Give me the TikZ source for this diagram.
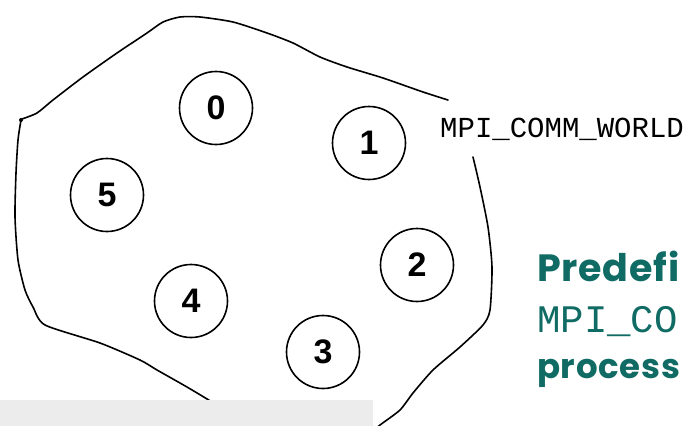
\documentclass[tikz,border=0pt]{standalone}
\usepackage{fontspec}
\newfontfamily\digitfont{Liberation Sans}
\newfontfamily\monofnt{Liberation Mono}
\newfontfamily\tealfont{Poppins}[LetterSpace=2]
\definecolor{tealtxt}{HTML}{0F6B63}
\definecolor{boxgray}{HTML}{ECECEC}
\begin{document}
\begin{tikzpicture}[x=1pt,y=-1pt,
  proc/.style={draw, line width=1.6pt, circle, minimum size=73pt, inner sep=0pt,
    font=\digitfont\bfseries\fontsize{34}{34}\selectfont},
  outline/.style={line width=1.6pt, line join=round, line cap=round}]
\useasboundingbox (0,0) rectangle (686,426);
\clip (0,0) rectangle (686,426);
\fill[white] (0,0) rectangle (686,426);
% communicator outline
\draw[outline] plot[smooth, tension=0.4] coordinates {
  (448,100) (423,92) (383,78) (347,67) (320,57) (293,43) (267,33) (233,22)
  (200,17) (180,17) (163,22) (147,33) (117,53) (83,77) (53,100) (37,113) (22,119)};
\fill (21,120) circle (2pt);
\draw[outline] plot[smooth, tension=0.4] coordinates {
  (21,120) (18,140) (16,173) (15,217) (18,260) (25,290) (33,307) (45,325)
  (100,343) (140,360) (157,370) (187,387) (212,402)};
\draw[outline] plot[smooth, tension=0.4] coordinates {
  (473,157) (480,187) (488,227) (492,267) (490,310) (483,325) (460,347)
  (433,370) (413,393) (400,410) (380,425) (372,432)};
% processes
\node[proc] (p0) at (216,108) {0};
\node[proc] (p1) at (369,143) {1};
\node[proc] (p2) at (417,265) {2};
\node[proc] (p3) at (323,352) {3};
\node[proc] (p4) at (191,301) {4};
\node[proc] (p5) at (107,195) {5};
% label
\node[anchor=base west, inner sep=0pt, font=\monofnt\fontsize{29}{29}\selectfont] (lbl) at (440,137) {MPI\_COMM\_WORLD};
% teal text
\node[anchor=base west, inner sep=0pt, text=tealtxt, font=\tealfont\bfseries\fontsize{38}{38}\selectfont] (t1) at (537,281) {Predefi};
\node[anchor=base west, inner sep=0pt, text=tealtxt, font=\monofnt\fontsize{39}{39}\selectfont] (t2) at (537,332) {MPI\_CO};
\node[anchor=base west, inner sep=0pt, text=tealtxt, font=\tealfont\bfseries\fontsize{34}{34}\selectfont] (t3) at (537,378) {process};
% gray bar
\fill[boxgray] (0,400) rectangle (373,426);
\end{tikzpicture}
\end{document}
